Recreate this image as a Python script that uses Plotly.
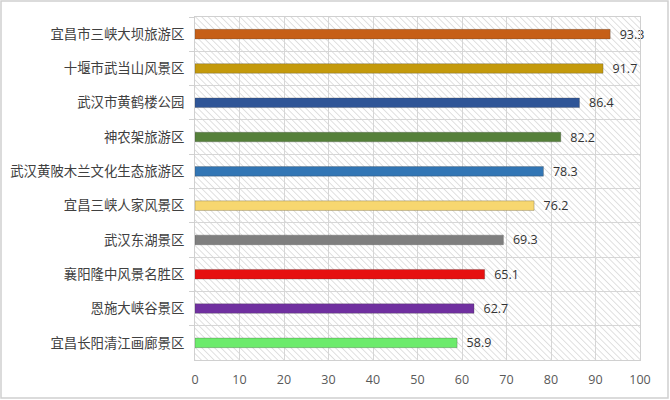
import base64

import plotly.graph_objects as go

# 景区名称（自上而下）与得分
scenic_spots = [
    "宜昌市三峡大坝旅游区",
    "十堰市武当山风景区",
    "武汉市黄鹤楼公园",
    "神农架旅游区",
    "武汉黄陂木兰文化生态旅游区",
    "宜昌三峡人家风景区",
    "武汉东湖景区",
    "襄阳隆中风景名胜区",
    "恩施大峡谷景区",
    "宜昌长阳清江画廊景区",
]
scores = [93.3, 91.7, 86.4, 82.2, 78.3, 76.2, 69.3, 65.1, 62.7, 58.9]
bar_colors = [
    "#C65F17", "#C49A0C", "#2F5597", "#55803A", "#3276B5",
    "#F7D770", "#7F7F7F", "#E61010", "#7030A0", "#6CEB6C",
]
x_ticks = list(range(0, 101, 10))

# 斜线底纹背景（svg 图片）
hatch_svg = (
    '<svg xmlns="http://www.w3.org/2000/svg" width="445" height="343" '
    'preserveAspectRatio="none">'
    '<defs><pattern id="h" width="4.5" height="4.5" patternUnits="userSpaceOnUse" '
    'patternTransform="rotate(-45)">'
    '<line x1="0" y1="0" x2="0" y2="4.5" stroke="#c2c2c2" stroke-width="1"/>'
    '</pattern></defs>'
    '<rect width="445" height="343" fill="url(#h)"/></svg>'
)
hatch_src = "data:image/svg+xml;base64," + base64.b64encode(hatch_svg.encode()).decode()

fig = go.Figure(go.Bar(
    x=scores,
    y=scenic_spots,
    orientation="h",
    marker=dict(color=bar_colors, line=dict(color="rgba(60,60,60,0.35)", width=0.8)),
    width=0.28,
    text=["\u00a0\u00a0" + f"{v:.1f}" for v in scores],
    textposition="outside",
    constraintext="none",
    cliponaxis=False,
    textfont=dict(family="Open Sans, Noto Sans CJK SC", size=12.5, color="#333333"),
))

fig.update_layout(
    width=670,
    height=400,
    margin=dict(l=195, r=30, t=17, b=40, autoexpand=False),
    paper_bgcolor="white",
    plot_bgcolor="rgba(255,255,255,0)",
    showlegend=False,
    font=dict(family="Noto Sans CJK SC", color="#404040"),
    images=[dict(
        source=hatch_src, xref="paper", yref="paper", x=0, y=1,
        sizex=1, sizey=1, xanchor="left", yanchor="top",
        sizing="stretch", layer="below",
    )],
    shapes=[dict(
        type="rect", xref="paper", yref="paper",
        x0=-194 / 445, x1=1 + 28 / 445, y0=-38 / 343, y1=1 + 16 / 343,
        line=dict(color="#d0d0d0", width=1.5), fillcolor="rgba(0,0,0,0)",
        layer="below",
    )],
)

fig.update_xaxes(
    range=[0, 100],
    tickvals=x_ticks,
    showgrid=True,
    gridcolor="#d6d6d6",
    gridwidth=1,
    zeroline=False,
    showline=True,
    linecolor="#d0d0d0",
    mirror=True,
    ticks="",
    automargin=False,
    tickfont=dict(family="Open Sans", size=12.5, color="#595959"),
    ticklabelstandoff=8,
)
fig.update_yaxes(
    type="category",
    autorange="reversed",
    tickson="boundaries",
    showgrid=True,
    gridcolor="#d6d6d6",
    gridwidth=1,
    ticks="outside",
    ticklen=5,
    tickcolor="#d0d0d0",
    showline=True,
    linecolor="#d0d0d0",
    mirror=True,
    automargin=False,
    tickfont=dict(family="Noto Sans CJK SC", size=13.4, color="#404040"),
    ticklabelstandoff=7,
)

fig.write_html(
    "out.html",
    config={"displayModeBar": False},
    post_script="document.body.style.margin='0';",
)
